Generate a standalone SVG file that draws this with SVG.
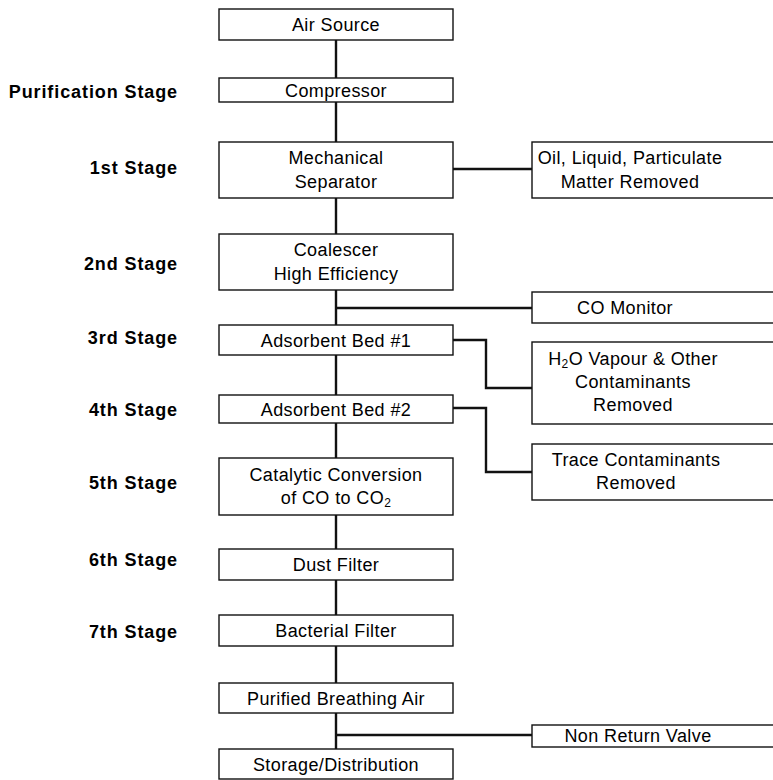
<svg xmlns="http://www.w3.org/2000/svg" width="773" height="780" viewBox="0 0 773 780">
<style>
.box{fill:#fff;stroke:#111;stroke-width:1.4}
.t{font-family:"Liberation Sans",Arial,sans-serif;font-size:18px;fill:#000;text-anchor:middle;letter-spacing:0.4px}
.lb{font-family:"Liberation Sans",Arial,sans-serif;font-size:18px;font-weight:bold;fill:#000;text-anchor:end;letter-spacing:0.9px}
.c{fill:none;stroke:#111;stroke-width:2.4}
</style>
<rect width="773" height="780" fill="#fff"/>
<g id="connectors">
<path class="c" d="M336 40V78M336 102V142M336 198V234M336 290V325M336 355V395M336 423V458M336 515V549M336 580V615M336 646V683M336 713V749"/>
<path class="c" d="M453 169H532"/>
<path class="c" d="M336 308H532"/>
<path class="c" d="M453 340H486V388H532"/>
<path class="c" d="M453 408H486V472H532"/>
<path class="c" d="M336 735H532"/>
</g>
<g id="labels">
<text class="lb" x="178" y="98">Purification Stage</text>
<text class="lb" x="178" y="174">1st Stage</text>
<text class="lb" x="178" y="270">2nd Stage</text>
<text class="lb" x="178" y="344">3rd Stage</text>
<text class="lb" x="178" y="416">4th Stage</text>
<text class="lb" x="178" y="489">5th Stage</text>
<text class="lb" x="178" y="566">6th Stage</text>
<text class="lb" x="178" y="638">7th Stage</text>
</g>
<g id="air-source"><rect class="box" x="219" y="9" width="234" height="31"/><text class="t" x="336" y="31">Air Source</text></g>
<g id="compressor"><rect class="box" x="219" y="78" width="234" height="24"/><text class="t" x="336" y="97">Compressor</text></g>
<g id="mechanical-separator"><rect class="box" x="219" y="142" width="234" height="56"/><text class="t" x="336" y="164">Mechanical</text><text class="t" x="336" y="188">Separator</text></g>
<g id="oil-removed"><rect class="box" x="532" y="142" width="245" height="56"/><text class="t" x="630" y="164">Oil, Liquid, Particulate</text><text class="t" x="630" y="188">Matter Removed</text></g>
<g id="coalescer"><rect class="box" x="219" y="234" width="234" height="56"/><text class="t" x="336" y="256">Coalescer</text><text class="t" x="336" y="280">High Efficiency</text></g>
<g id="co-monitor"><rect class="box" x="532" y="292" width="245" height="31"/><text class="t" x="625" y="314">CO Monitor</text></g>
<g id="adsorbent-bed-1"><rect class="box" x="219" y="325" width="234" height="30"/><text class="t" x="336" y="347">Adsorbent Bed #1</text></g>
<g id="h2o-removed"><rect class="box" x="532" y="342" width="245" height="82"/><text class="t" x="633" y="365">H<tspan font-size="12" dy="3">2</tspan><tspan dy="-3">O Vapour &amp; Other</tspan></text><text class="t" x="633" y="388">Contaminants</text><text class="t" x="633" y="411">Removed</text></g>
<g id="adsorbent-bed-2"><rect class="box" x="219" y="395" width="234" height="28"/><text class="t" x="336" y="416">Adsorbent Bed #2</text></g>
<g id="trace-removed"><rect class="box" x="532" y="444" width="245" height="56"/><text class="t" x="636" y="466">Trace Contaminants</text><text class="t" x="636" y="489">Removed</text></g>
<g id="catalytic"><rect class="box" x="219" y="458" width="234" height="57"/><text class="t" x="336" y="481">Catalytic Conversion</text><text class="t" x="336" y="504">of CO to CO<tspan font-size="12" dy="3">2</tspan></text></g>
<g id="dust-filter"><rect class="box" x="219" y="549" width="234" height="31"/><text class="t" x="336" y="571">Dust Filter</text></g>
<g id="bacterial-filter"><rect class="box" x="219" y="615" width="234" height="31"/><text class="t" x="336" y="637">Bacterial Filter</text></g>
<g id="purified-air"><rect class="box" x="219" y="683" width="234" height="30"/><text class="t" x="336" y="705">Purified Breathing Air</text></g>
<g id="non-return-valve"><rect class="box" x="532" y="725" width="245" height="22"/><text class="t" x="638" y="742">Non Return Valve</text></g>
<g id="storage"><rect class="box" x="219" y="749" width="234" height="30"/><text class="t" x="336" y="771">Storage/Distribution</text></g>
</svg>
